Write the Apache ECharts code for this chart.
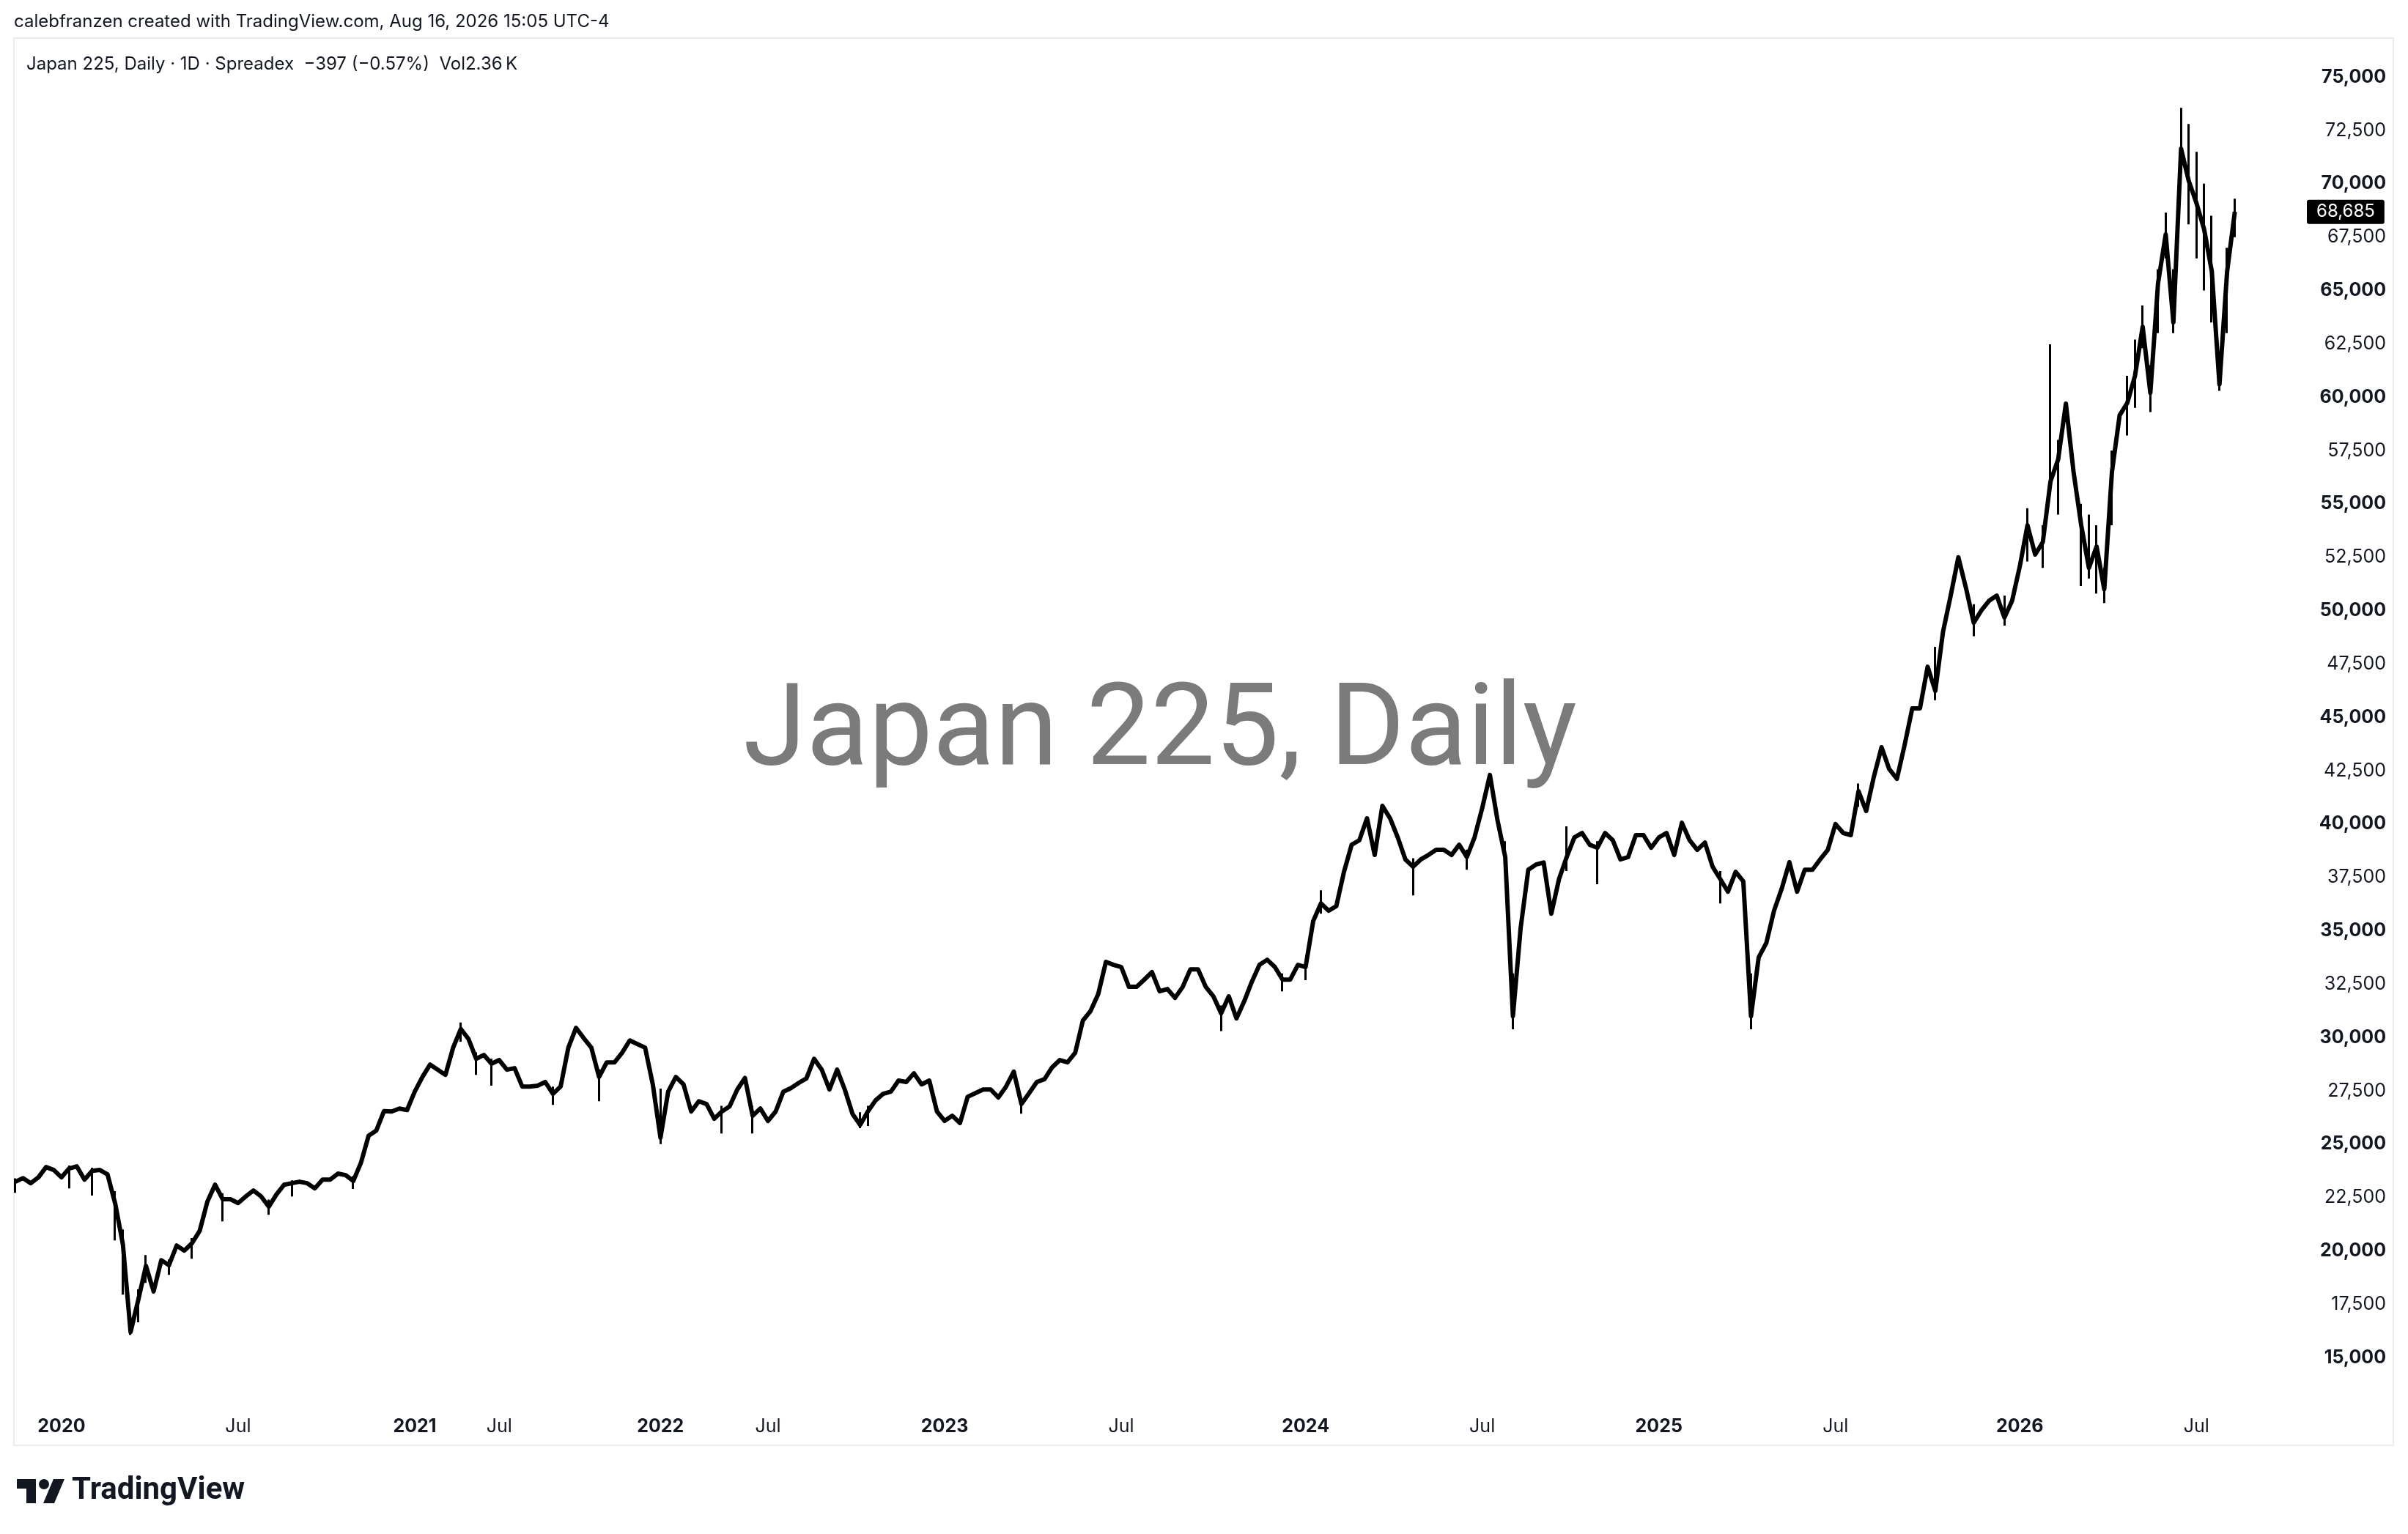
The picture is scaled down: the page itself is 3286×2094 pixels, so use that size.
<!DOCTYPE html>
<html><head><meta charset="utf-8">
<script src="https://cdn.jsdelivr.net/npm/echarts@6/dist/echarts.min.js"></script>
<style>html,body{margin:0;padding:0;background:#fff;}#c{width:3286px;height:2094px;}</style>
</head><body><div id="c"></div>
<script>
// Japan 225 daily closes, sampled
const prices = [
23240,23410,23170,23445,23925,23790,23445,23860,23960,23340,
23750,23790,23580,22210,20300,16200,17700,19300,18100,19560,
19330,20250,20010,20360,20940,22310,23100,22420,22420,22240,
22550,22830,22550,22070,22650,23100,23170,23240,23170,22930,
23340,23340,23620,23550,23275,24130,25400,25640,26550,26530,
26670,26600,27460,28150,28730,28490,28250,29520,30400,29930,
29000,29180,28770,28940,28490,28560,27700,27700,27740,27910,
27360,27700,29520,30450,29970,29520,28150,28830,28830,29280,
29860,29690,29520,27800,25300,27460,28150,27800,26530,27010,
26880,26190,26530,26770,27560,28100,26330,26670,26090,26530,
27460,27630,27870,28080,29000,28490,27560,28490,27560,26420,
25900,26530,27050,27360,27460,27980,27910,28320,27800,27980,
26530,26090,26330,25990,27220,27390,27560,27560,27190,27700,
28400,26880,27390,27910,28045,28600,28940,28835,29280,30790,
31240,32030,33540,33400,33300,32370,32370,32710,33060,32160,
32270,31855,32370,33190,33190,32370,31925,31130,31925,30890,
31685,32610,33400,33640,33300,32710,32710,33400,33300,35460,
36280,35940,36150,37760,39030,39240,40270,38550,40850,40270,
39375,38340,38000,38340,38550,38790,38790,38550,39030,38450,
39375,40750,42300,40160,38450,31000,35115,37860,38100,38200,
35800,37420,38450,39370,39580,39030,38890,39580,39240,38340,
38450,39480,39480,38890,39370,39580,38550,40060,39240,38790,
39130,38000,37420,36830,37760,37310,31000,33750,34430,35940,
36970,38210,36830,37860,37860,38340,38790,40000,39580,39480,
41540,40610,42220,43600,42570,42120,43700,45420,45420,47370,
46240,49000,50700,52500,51050,49430,50010,50460,50700,49670,
50460,52070,54000,52625,53210,56060,57090,59700,56500,54000,
52000,53000,51000,56500,59150,59730,61000,63300,60200,65330,
67630,63500,71640,70130,69100,67870,65900,60600,65900,68685
];
// intraday extremes at selected samples: [sample index, low, high]
const wicks = [
[0,22720,23400],[7,22930,24000],[10,22590,23900],[13,20490,22800],[14,17950,21000],
[15,16060,16400],[16,16650,18200],[17,18500,19800],[20,18880,19600],[23,19630,20600],
[27,21380,22700],[33,21690,22400],[36,22550,23300],[44,22900,23500],[58,29800,30700],
[60,28250,29300],[62,27740,29000],[70,26840,27700],[76,27010,28500],[84,25000,27600],
[92,25500,26800],[96,25500,26800],[110,25750,26500],[111,25850,26800],[131,26430,27200],
[157,30300,31500],[165,32160,33000],[168,32680,33600],[170,35800,36900],[182,36660,38400],
[189,37860,38800],[194,38000,39200],[195,30380,33000],[202,37800,39890],[206,37180,39200],
[222,36280,37800],[226,30380,33000],[240,40800,41900],[250,45800,48300],[255,48800,50300],
[259,49300,50700],[262,52300,54800],[264,52000,54000],[265,55500,62475],[266,54500,58000],
[269,51150,55000],[270,51500,54500],[271,50800,54000],[272,50350,52000],[273,54000,57500],
[275,58200,61000],[276,59500,62700],[277,62300,64300],[278,59300,61500],[279,63000,66000],
[280,66500,68650],[281,63000,66000],[282,70500,73560],[283,68100,72800],[284,66500,71500],
[285,65000,70000],[286,63500,68500],[287,60300,61500],[288,63000,67000],[289,67500,69300]
];
const totalSlots = 299; // trailing empty space on the right, as in the source chart
const xTickLabels = [
[6,'2020',true],[29,'Jul',false],[52,'2021',true],[63,'Jul',false],[84,'2022',true],[98,'Jul',false],
[121,'2023',true],[144,'Jul',false],[168,'2024',true],[191,'Jul',false],[214,'2025',true],[237,'Jul',false],
[261,'2026',true],[284,'Jul',false]
];
const yMin = 12500, yMax = 76791, yInterval = 2500;
const lastPrice = 68685;
const headerText = 'calebfranzen created with TradingView.com, Aug 16, 2026 15:05 UTC-4';
const legendText = 'Japan 225, Daily \u00b7 1D \u00b7 Spreadex  \u2212397 (\u22120.57%)  Vol2.36\u2009K';
const watermarkText = 'Japan 225, Daily';

const FONT = 'Inter, Roboto, sans-serif';
const categories = [];
for (let i = 0; i < totalSlots; i++) categories.push(String(i));
const labelMap = {};
xTickLabels.forEach(t => { labelMap[String(t[0])] = t[2] ? '{b|' + t[1] + '}' : '{n|' + t[1] + '}'; });
const wickData = categories.map(() => '-');
wicks.forEach(w => { const p = prices[w[0]]; wickData[w[0]] = [p, p, w[1], w[2]]; });
const fmt = v => v.toLocaleString('en-US');

const baseGraphics = [
  {type: 'rect', z: -10, shape: {x: 19, y: 52, width: 3247, height: 1921}, style: {fill: 'none', stroke: '#ececef', lineWidth: 2}},
  {type: 'text', x: 19, y: 30, style: {text: headerText, font: '24px ' + FONT, fill: '#131722', textVerticalAlign: 'middle'}},
  {type: 'text', x: 36, y: 88, style: {text: legendText, font: '24px ' + FONT, fill: '#131722', textVerticalAlign: 'middle'}},
  {type: 'text', z: -5, x: 1583, y: 1004, style: {text: watermarkText, font: '156px Roboto, sans-serif', fill: '#7b7b7b', textAlign: 'center', textVerticalAlign: 'middle'}},
  {type: 'group', children: [
    {type: 'polygon', shape: {points: [[23,2019],[49,2019],[49,2052],[36,2052],[36,2032],[23,2032]]}, style: {fill: '#131722'}},
    {type: 'circle', shape: {cx: 60, cy: 2026, r: 7}, style: {fill: '#131722'}},
    {type: 'polygon', shape: {points: [[73,2019],[88,2019],[74,2052],[59,2052]]}, style: {fill: '#131722'}}
  ]},
  {type: 'text', x: 98, y: 2035, style: {text: 'TradingView', font: 'bold 42px Roboto, sans-serif', fill: '#131722', textVerticalAlign: 'middle'}}
];

const chart = echarts.init(document.getElementById('c'), null, {renderer: 'canvas'});
chart.setOption({
  animation: false,
  backgroundColor: '#ffffff',
  grid: {left: 21, right: 142, top: 53, bottom: 168, containLabel: false},
  xAxis: {
    type: 'category', data: categories, boundaryGap: false,
    axisLine: {show: false}, axisTick: {show: false}, splitLine: {show: false},
    axisLabel: {
      interval: 0, margin: 9,
      formatter: v => labelMap[v] || '',
      rich: {
        b: {fontFamily: FONT, fontSize: 25, fontWeight: 'bold', color: '#131722'},
        n: {fontFamily: FONT, fontSize: 25, color: '#131722'}
      }
    }
  },
  yAxis: {
    type: 'value', position: 'right', min: yMin, max: yMax, interval: yInterval,
    axisLine: {show: false}, axisTick: {show: false}, splitLine: {show: false},
    axisLabel: {
      margin: 112, align: 'right',
      formatter: v => (v % 5000 === 0 && v >= 15000) ? '{b|' + fmt(v) + '}' : ((v % 2500 === 0 && v >= 15000) ? '{n|' + fmt(v) + '}' : ''),
      rich: {
        b: {fontFamily: FONT, fontSize: 25, fontWeight: 'bold', color: '#131722'},
        n: {fontFamily: FONT, fontSize: 25, color: '#131722'}
      }
    }
  },
  graphic: baseGraphics,
  series: [
    {
      type: 'line', data: prices, showSymbol: false, symbol: 'none', z: 3,
      lineStyle: {color: '#000000', width: 6, join: 'round'}
    },
    {
      type: 'candlestick', data: wickData, z: 4, barWidth: 3,
      itemStyle: {color: '#000', color0: '#000', borderColor: '#000', borderColor0: '#000', borderWidth: 3}
    }
  ]
});
// last-price tag on the price scale, positioned through the value axis
const py = chart.convertToPixel({yAxisIndex: 0}, lastPrice);
chart.setOption({
  graphic: baseGraphics.concat([
    {type: 'text', x: 3148, y: py, style: {text: fmt(lastPrice), font: '24px ' + FONT, fill: '#ffffff',
      backgroundColor: '#000000', padding: [5, 13, 4, 13], borderRadius: 3, textVerticalAlign: 'middle'}}
  ])
});
</script>
</body></html>
